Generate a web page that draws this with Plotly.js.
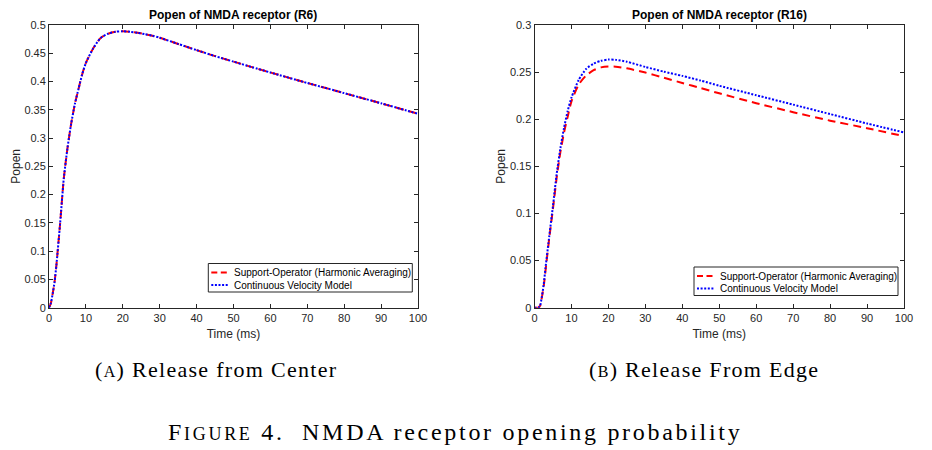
<!DOCTYPE html>
<html>
<head>
<meta charset="utf-8">
<script src="https://cdn.plot.ly/plotly-3.0.1.min.js"></script>
<style>html,body{margin:0;padding:0;background:#fff;}#chart{width:932px;height:450px;}</style>
</head>
<body>
<div id="chart"></div>
<script>
// ---- Data ----
const timeA = [0, 0.5, 1, 1.5, 2, 3, 4, 5, 6, 7, 8, 9, 10, 12, 14, 16, 18, 20, 22, 24, 26, 28, 30, 35, 40, 45, 50, 55, 60, 70, 80, 90, 100];
const supportA = [0, 0.008, 0.025, 0.045, 0.075, 0.148, 0.228, 0.282, 0.325, 0.360, 0.387, 0.413, 0.433, 0.459, 0.477, 0.4845, 0.488, 0.4888, 0.488, 0.4862, 0.4838, 0.481, 0.4775, 0.4665, 0.4555, 0.445, 0.4352, 0.4255, 0.416, 0.3975, 0.3795, 0.3615, 0.343];
const continuousA = [0, 0.008, 0.025, 0.045, 0.075, 0.148, 0.228, 0.282, 0.325, 0.360, 0.387, 0.413, 0.433, 0.459, 0.477, 0.4845, 0.488, 0.4888, 0.488, 0.4862, 0.4838, 0.481, 0.4775, 0.4665, 0.4555, 0.445, 0.4352, 0.4255, 0.416, 0.3975, 0.3795, 0.3615, 0.343];

const timeB = [0, 0.5, 1, 1.5, 2, 2.5, 3, 4, 5, 6, 7, 8, 9, 10, 12, 14, 16, 18, 20, 22, 25, 30, 35, 40, 45, 50, 60, 70, 80, 90, 100];
const supportB = [0, 0, 0, 0.002, 0.011, 0.023, 0.040, 0.074, 0.105, 0.138, 0.165, 0.186, 0.203, 0.219, 0.237, 0.2465, 0.252, 0.255, 0.256, 0.2558, 0.254, 0.2495, 0.244, 0.2385, 0.233, 0.2275, 0.217, 0.2075, 0.1985, 0.1905, 0.182];
const continuousB = [0, 0, 0, 0.002, 0.012, 0.025, 0.043, 0.076, 0.108, 0.142, 0.169, 0.191, 0.209, 0.223, 0.242, 0.2535, 0.259, 0.262, 0.2633, 0.263, 0.261, 0.2555, 0.2505, 0.246, 0.241, 0.2355, 0.2255, 0.2155, 0.2055, 0.1955, 0.186];

const seriesNames = ["Support-Operator (Harmonic Averaging)", "Continuous Velocity Model"];
const panelTitles = ["Popen of NMDA receptor (R6)", "Popen of NMDA receptor (R16)"];
const captions = ["(<span style=\"font-size:16px\">A</span>) Release from Center", "(<span style=\"font-size:16px\">B</span>) Release From Edge"];
const figureCaption = "F<span style=\"font-size:18px\">IGURE</span> 4.  NMDA receptor opening probability";

// ---- Styling ----
const RED = "#ff0000", BLUE = "#0000ff", AX = "#262626";
const DASH_RED = "8px,5px", DOT_BLUE = "2px,1.6px";
const sans = "Liberation Sans, Arial, sans-serif";
const serif = "Liberation Serif, Times New Roman, serif";
const W = 932, H = 450;
const px = v => v / W, py = v => 1 - v / H;

function tr(x, y, name, color, dash, xa, ya) {
  return {x: x, y: y, name: name, type: "scatter", mode: "lines",
    line: {color: color, width: 2, dash: dash, shape: "spline", smoothing: 0.6},
    xaxis: xa, yaxis: ya, showlegend: false, hoverinfo: "skip"};
}

const traces = [
  tr(timeA, supportA, seriesNames[0], RED, DASH_RED, "x", "y"),
  tr(timeA, continuousA, seriesNames[1], BLUE, DOT_BLUE, "x", "y"),
  tr(timeB, supportB, seriesNames[0], RED, DASH_RED, "x2", "y2"),
  tr(timeB, continuousB, seriesNames[1], BLUE, DOT_BLUE, "x2", "y2")
];

function xax(dom, anchor) {
  return {domain: dom, anchor: anchor, range: [0, 100], dtick: 10, tick0: 0,
    showline: true, mirror: "ticks", linecolor: AX, linewidth: 1,
    ticks: "inside", ticklen: 4, tickcolor: AX, showgrid: false, zeroline: false,
    tickfont: {family: sans, size: 11, color: AX},
    title: {text: "Time (ms)", font: {family: sans, size: 12, color: AX}, standoff: 6}};
}
function yax(dom, anchor, top) {
  return {domain: dom, anchor: anchor, range: [0, top], dtick: 0.05, tick0: 0,
    showline: true, mirror: "ticks", linecolor: AX, linewidth: 1,
    ticks: "inside", ticklen: 4, tickcolor: AX, showgrid: false, zeroline: false,
    tickfont: {family: sans, size: 11, color: AX},
    title: {text: "Popen", font: {family: sans, size: 12, color: AX}, standoff: 1}};
}

const yDom = [py(307.7), py(25)];
const xDomA = [px(49), px(418)];
const xDomB = [px(534.5), px(904)];

// ---- Custom MATLAB-style legends (box, line samples, labels) ----
const shapes = [];
const annotations = [];
function addLegend(left, top) {
  const wBox = 204, hBox = 28.5;
  shapes.push({type: "rect", xref: "paper", yref: "paper", x0: px(left), x1: px(left + wBox), y0: py(top + hBox), y1: py(top),
    line: {color: AX, width: 1}, fillcolor: "#ffffff", layer: "above"});
  const rows = [top + 9, top + 21.5];
  const styles = [[RED, "6px,3.5px"], [BLUE, DOT_BLUE]];
  rows.forEach((ry, i) => {
    shapes.push({type: "line", xref: "paper", yref: "paper", x0: px(left + 3), x1: px(left + 19.5), y0: py(ry), y1: py(ry),
      line: {color: styles[i][0], width: 2, dash: styles[i][1]}, layer: "above"});
    annotations.push({text: seriesNames[i], xref: "paper", yref: "paper", x: px(left + 25), y: py(ry), xanchor: "left", yanchor: "middle",
      showarrow: false, font: {family: sans, size: 10, color: "#000"}, borderpad: 0});
  });
}
addLegend(208.3, 263.5);
addLegend(694, 267);

annotations.push(
  {text: "<b>" + panelTitles[0] + "</b>", x: (xDomA[0] + xDomA[1]) / 2, y: py(15), xref: "paper", yref: "paper", showarrow: false, font: {family: sans, size: 12, color: "#000"}, xanchor: "center", yanchor: "middle"},
  {text: "<b>" + panelTitles[1] + "</b>", x: (xDomB[0] + xDomB[1]) / 2, y: py(15), xref: "paper", yref: "paper", showarrow: false, font: {family: sans, size: 12, color: "#000"}, xanchor: "center", yanchor: "middle"},
  {text: "<span style=\"letter-spacing:1.3px\">" + captions[0] + "</span>", x: px(216), y: py(369), xref: "paper", yref: "paper", showarrow: false, font: {family: serif, size: 22, color: "#000"}, xanchor: "center", yanchor: "middle"},
  {text: "<span style=\"letter-spacing:1.3px\">" + captions[1] + "</span>", x: px(704), y: py(369), xref: "paper", yref: "paper", showarrow: false, font: {family: serif, size: 22, color: "#000"}, xanchor: "center", yanchor: "middle"},
  {text: "<span style=\"letter-spacing:2.7px\">" + figureCaption + "</span>", x: px(455), y: py(432), xref: "paper", yref: "paper", showarrow: false, font: {family: serif, size: 24, color: "#000"}, xanchor: "center", yanchor: "middle"}
);

const layout = {
  width: W, height: H,
  margin: {l: 0, r: 0, t: 0, b: 0},
  paper_bgcolor: "#ffffff", plot_bgcolor: "#ffffff",
  showlegend: false,
  xaxis: xax(xDomA, "y"), yaxis: yax(yDom, "x", 0.5),
  xaxis2: xax(xDomB, "y2"), yaxis2: yax(yDom, "x2", 0.3),
  shapes: shapes,
  annotations: annotations
};

Plotly.newPlot("chart", traces, layout, {staticPlot: true, displayModeBar: false});
</script>
</body>
</html>
